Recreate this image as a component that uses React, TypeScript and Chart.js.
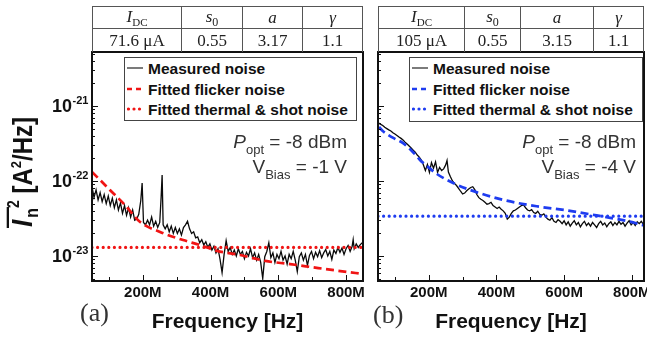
import React, { useEffect, useRef } from "react";
import { Chart, registerables } from "chart.js";

Chart.register(...registerables);

const SANS = "'Liberation Sans', Arial, Helvetica, sans-serif";
const SERIF = "'Liberation Serif', 'Times New Roman', Times, serif";

// ---- axis / label data ----
const xMajorTicksMHz = [200, 400, 600, 800];
const xMinorTicksMHz = [100, 300, 500, 700];
const yLabelExponents = [-23, -22, -21];
const yMin = 4.64e-24;
const yMax = 5.25e-21;

const legendLabels = ["Measured noise", "Fitted flicker noise", "Fitted thermal & shot noise"];
const panelLetters = ["(a)", "(b)"];
const tableValuesA = ["71.6 μA", "0.55", "3.17", "1.1"];
const tableValuesB = ["105 μA", "0.55", "3.15", "1.1"];
const poptValue = "-8 dBm";
const vbiasA = "-1 V";
const vbiasB = "-4 V";

// ---- series: [frequency MHz, noise in 1e-23 A^2/Hz] ----
const measuredA: [number, number][] = [
  [50, 8.4], [56, 6.0], [62, 7.6], [68, 5.6], [74, 7.0], [80, 5.3], [86, 6.6], [92, 5.0], [98, 6.3], [104, 4.7],
  [110, 5.9], [116, 4.4], [122, 5.6], [128, 4.1], [134, 5.1], [140, 3.7], [146, 4.7], [152, 3.5], [158, 4.4], [164, 3.3],
  [170, 4.1], [176, 3.0], [182, 3.1], [188, 3.6], [194, 5.5], [198, 9.4], [202, 2.8], [208, 2.6], [214, 3.0], [220, 2.6],
  [226, 3.3], [232, 2.5], [238, 2.9], [244, 2.4], [250, 2.8], [254, 6.0], [257, 12.0], [260, 2.6], [266, 2.3], [272, 2.6],
  [278, 2.1], [284, 2.5], [290, 2.0], [296, 2.4], [302, 2.0], [308, 2.3], [314, 1.9], [320, 2.4], [326, 2.6], [332, 2.9],
  [338, 2.3], [344, 2.0], [350, 2.1], [356, 1.75], [362, 1.8], [368, 1.5], [374, 1.65], [380, 1.4], [386, 1.55], [392, 1.3],
  [398, 1.45], [404, 1.2], [410, 1.35], [416, 1.1], [422, 1.25], [428, 0.9], [434, 0.6], [440, 1.05], [446, 1.6], [452, 1.15],
  [458, 1.3], [464, 1.05], [470, 1.2], [476, 1.0], [482, 1.25], [488, 1.05], [494, 1.15], [500, 0.92], [506, 1.12], [512, 1.0],
  [518, 1.25], [524, 0.95], [530, 1.1], [536, 0.88], [542, 1.05], [548, 0.82], [554, 0.5], [560, 0.98], [566, 1.15], [572, 1.5],
  [578, 0.95], [584, 1.1], [590, 0.82], [596, 1.05], [602, 0.92], [608, 1.15], [614, 0.88], [620, 1.0], [626, 0.78], [632, 1.05],
  [638, 0.92], [644, 1.15], [650, 0.88], [656, 0.62], [662, 0.98], [668, 1.1], [674, 0.88], [680, 1.05], [686, 0.75], [692, 1.02],
  [698, 1.15], [704, 0.92], [710, 1.12], [716, 0.98], [722, 1.18], [728, 0.95], [734, 1.1], [740, 1.22], [746, 1.0], [752, 1.15],
  [758, 0.9], [764, 1.2], [770, 1.08], [776, 1.3], [782, 1.12], [788, 1.28], [794, 1.05], [800, 1.25], [806, 1.38], [812, 1.15],
  [818, 1.35], [821, 1.65], [824, 1.25], [830, 1.45], [836, 1.3], [842, 1.42], [848, 1.5],
];
const flickerA: [number, number][] = [
  [50, 13.2], [74, 10.3], [103, 7.6], [147, 4.8], [192, 2.84], [251, 2.09], [319, 1.63], [369, 1.4],
  [419, 1.17], [487, 1.03], [561, 0.86], [635, 0.78], [718, 0.69], [783, 0.63], [850, 0.575],
];
const thermalA: [number, number][] = [[50, 1.3], [850, 1.3]];

const measuredB: [number, number][] = [
  [52, 59], [58, 57], [64, 55], [70, 52], [76, 50], [82, 48], [88, 46.5], [94, 44], [100, 42.3], [106, 40.5],
  [112, 38.6], [118, 37], [124, 35.2], [130, 33], [136, 31.1], [142, 29.3], [148, 27.5], [154, 25.8], [160, 24.2], [166, 22.2],
  [172, 20.8], [178, 19], [184, 16.5], [190, 13.8], [196, 16.6], [202, 13], [208, 17.6], [214, 14.8], [220, 18], [226, 13],
  [232, 15.2], [238, 13.8], [244, 14.5], [250, 16.4], [254, 18.8], [258, 13.2], [264, 11.4], [270, 10], [276, 9.3], [282, 8.7],
  [288, 8], [294, 7.3], [300, 6.7], [306, 6.9], [312, 7.4], [318, 7.8], [324, 8.2], [330, 8.4], [336, 7.7], [342, 6.6],
  [348, 6], [354, 5.7], [360, 5.5], [366, 5.2], [372, 4.9], [378, 5], [384, 5.2], [390, 4.7], [396, 4.5], [402, 4.3],
  [408, 4.5], [414, 4.2], [420, 4], [426, 3.7], [432, 3.1], [438, 3.3], [444, 3.7], [450, 4], [456, 4.1], [462, 4.3],
  [468, 4.5], [474, 4.7], [480, 4.8], [486, 4.4], [492, 4.1], [498, 4], [504, 4.15], [510, 3.8], [516, 3.7], [522, 3.95],
  [528, 3.6], [534, 3.5], [540, 3.65], [546, 3.3], [552, 3.1], [558, 3], [564, 3.25], [570, 2.9], [576, 2.8], [582, 3.05],
  [588, 2.9], [594, 2.7], [600, 2.95], [606, 2.6], [612, 2.85], [618, 2.5], [624, 2.75], [630, 2.95], [636, 2.6], [642, 2.8],
  [648, 2.45], [654, 2.7], [660, 2.9], [666, 2.55], [672, 2.75], [678, 2.5], [684, 2.8], [690, 2.6], [696, 2.4], [702, 2.7],
  [708, 2.9], [714, 2.6], [720, 2.75], [726, 2.45], [732, 2.7], [738, 2.85], [744, 2.55], [750, 2.8], [756, 2.6], [762, 2.9],
  [768, 2.65], [774, 2.8], [780, 2.5], [786, 2.75], [792, 2.95], [798, 2.6], [804, 2.8], [810, 2.55], [816, 2.85], [822, 2.7],
  [828, 2.9], [834, 2.65], [836, 2.8],
];
const flickerB: [number, number][] = [
  [53, 52.5], [65, 46], [77, 42], [100, 36.5], [124, 32], [153, 24.4], [174, 19.1], [195, 15.8], [224, 12.4],
  [272, 9.4], [322, 7.6], [420, 5.6], [519, 4.6], [617, 4.0], [715, 3.35], [790, 2.9], [836, 2.55],
];
const thermalB: [number, number][] = [[50, 3.4], [836, 3.4]];

const RED = "#f01414";
const BLUE = "#1e3cf0";

function drawYTitle(ctx: CanvasRenderingContext2D, cx: number, cy: number) {
  ctx.save();
  ctx.translate(cx, cy);
  ctx.rotate(-Math.PI / 2);
  ctx.scale(1, 1.15);
  ctx.fillStyle = "#111";
  ctx.textBaseline = "alphabetic";
  ctx.textAlign = "left";
  const fI = `italic bold 26px ${SANS}`;
  const fSub = `bold 16px ${SANS}`;
  const fSup = `bold 14px ${SANS}`;
  const fMain = `bold 24px ${SANS}`;
  const fSup2 = `bold 13px ${SANS}`;
  const w = (f: string, t: string) => {
    ctx.font = f;
    return ctx.measureText(t).width;
  };
  const wI = w(fI, "I");
  const wN = w(fSub, "n");
  const w2 = w(fSup, "2");
  const wA = w(fMain, " [A");
  const wS = w(fSup2, "2");
  const wH = w(fMain, "/Hz]");
  const total = wI + 2 + wN + w2 + wA + wS + wH;
  let x = -total / 2;
  const overStart = x;
  ctx.font = fI;
  ctx.fillText("I", x, 0);
  x += wI + 2;
  ctx.font = fSub;
  ctx.fillText("n", x, 5);
  x += wN;
  const overEnd = x + 1;
  ctx.font = fSup;
  ctx.fillText("2", x, -11);
  x += w2;
  ctx.font = fMain;
  ctx.fillText(" [A", x, 0);
  x += wA;
  ctx.font = fSup2;
  ctx.fillText("2", x, -10);
  x += wS;
  ctx.font = fMain;
  ctx.fillText("/Hz]", x, 0);
  ctx.fillRect(overStart - 1, -22, overEnd - overStart + 1, 2);
  ctx.restore();
}

function decorPlugin(showY: boolean) {
  return {
    id: "decor",
    afterDatasetsDraw(chart: any) {
      const { ctx, chartArea: a, scales } = chart;
      const xs = scales.x;
      const ys = scales.y;
      ctx.save();
      ctx.strokeStyle = "#111";
      ctx.lineWidth = 1;
      for (let e = -24; e <= -20; e++) {
        for (let m = 1; m <= 9; m++) {
          const v = m * Math.pow(10, e);
          if (v < ys.min * 0.999 || v > ys.max * 1.001) continue;
          const py = Math.round(ys.getPixelForValue(v)) + 0.5;
          const len = m === 1 ? 6 : 3;
          ctx.beginPath();
          ctx.moveTo(a.left, py);
          ctx.lineTo(a.left + len, py);
          ctx.stroke();
        }
      }
      const allX = [...xMajorTicksMHz.map((m) => [m, 6]), ...xMinorTicksMHz.map((m) => [m, 4])];
      for (const [m, len] of allX) {
        const px = Math.round(xs.getPixelForValue(m * 1e6)) + 0.5;
        ctx.beginPath();
        ctx.moveTo(px, a.bottom);
        ctx.lineTo(px, a.bottom - len);
        ctx.stroke();
      }
      ctx.lineWidth = 2;
      ctx.strokeRect(a.left, a.top, a.right - a.left, a.bottom - a.top);
      if (showY) {
        ctx.fillStyle = "#111";
        for (const e of yLabelExponents) {
          const py = ys.getPixelForValue(Math.pow(10, e));
          ctx.font = `bold 18px ${SANS}`;
          ctx.textAlign = "right";
          ctx.textBaseline = "middle";
          ctx.fillText("10", a.left - 20, py + 1);
          ctx.font = `bold 11px ${SANS}`;
          ctx.textAlign = "left";
          ctx.textBaseline = "alphabetic";
          ctx.fillText(String(e), a.left - 19.5, py - 2);
        }
        drawYTitle(ctx, 32, 172);
      }
      ctx.restore();
    },
  };
}

type PanelProps = {
  left: number;
  width: number;
  xMaxMHz: number;
  yAxisWidth: number;
  rightPad: number;
  measured: [number, number][];
  flicker: [number, number][];
  thermal: [number, number][];
  color: string;
  showY: boolean;
};

function Panel(p: PanelProps) {
  const ref = useRef<HTMLCanvasElement>(null);
  useEffect(() => {
    const toPts = (arr: [number, number][]) => arr.map(([f, v]) => ({ x: f * 1e6, y: v * 1e-23 }));
    const chart = new Chart(ref.current as HTMLCanvasElement, {
      type: "line",
      data: {
        datasets: [
          {
            label: legendLabels[2],
            data: toPts(p.thermal),
            borderColor: p.color,
            borderWidth: 3.2,
            borderDash: [0, 5.6],
            borderCapStyle: "round",
            pointRadius: 0,
            order: 1,
          },
          {
            label: legendLabels[1],
            data: toPts(p.flicker),
            borderColor: p.color,
            borderWidth: 2.7,
            borderDash: [8, 4.5],
            cubicInterpolationMode: "monotone",
            pointRadius: 0,
            order: 2,
          },
          {
            label: legendLabels[0],
            data: toPts(p.measured),
            borderColor: "#0a0a0a",
            borderWidth: 1.3,
            pointRadius: 0,
            order: 3,
          },
        ],
      } as any,
      options: {
        responsive: false,
        animation: false,
        devicePixelRatio: 1,
        events: [],
        layout: { padding: { top: 52, right: p.rightPad, left: 0, bottom: 0 } },
        plugins: { legend: { display: false }, tooltip: { enabled: false } },
        scales: {
          x: {
            type: "linear",
            min: 50e6,
            max: p.xMaxMHz * 1e6,
            grid: { display: false, drawTicks: false },
            border: { display: false },
            afterBuildTicks: (s: any) => {
              s.ticks = xMajorTicksMHz.map((m) => ({ value: m * 1e6 }));
            },
            afterFit: (s: any) => {
              s.height = 58;
              s.paddingLeft = 0;
              s.paddingRight = 0;
            },
            ticks: {
              padding: 3,
              autoSkip: false,
              maxRotation: 0,
              color: "#111",
              font: { family: SANS, size: 15, weight: "bold" },
              callback: (v: any) => `${Math.round(Number(v) / 1e6)}M`,
            },
            title: {
              display: true,
              text: "Frequency [Hz]",
              color: "#111",
              font: { family: SANS, size: 21, weight: "bold" },
              padding: { top: 0, bottom: 4 },
            },
          },
          y: {
            type: "logarithmic",
            min: yMin,
            max: yMax,
            grid: { display: false, drawTicks: false },
            border: { display: false },
            ticks: { display: false },
            afterFit: (s: any) => {
              s.width = p.yAxisWidth;
            },
          },
        },
      } as any,
      plugins: [decorPlugin(p.showY)],
    });
    return () => chart.destroy();
  }, []);
  return (
    <canvas
      ref={ref}
      width={p.width}
      height={339}
      style={{ position: "absolute", left: p.left, top: 0, width: p.width, height: 339 }}
    />
  );
}

const LINE = "1px solid #555";

function ParamTable({ edges, values }: { edges: number[]; values: string[] }) {
  const x0 = edges[0];
  const headers = [
    <span key="i">
      <i>I</i>
      <span style={{ fontSize: 11, position: "relative", top: 4 }}>DC</span>
    </span>,
    <span key="s">
      <i>s</i>
      <span style={{ fontSize: 12, position: "relative", top: 4 }}>0</span>
    </span>,
    <i key="a">a</i>,
    <i key="g">γ</i>,
  ];
  const cells: React.ReactNode[] = [];
  for (let r = 0; r < 2; r++) {
    for (let c = 0; c < 4; c++) {
      cells.push(
        <div
          key={`${r}-${c}`}
          style={{
            position: "absolute",
            left: edges[c] - x0,
            top: r === 0 ? 0 : 22,
            width: edges[c + 1] - edges[c],
            height: r === 0 ? 22 : 24,
            boxSizing: "border-box",
            borderLeft: LINE,
            borderRight: c === 3 ? LINE : "none",
            borderTop: LINE,
            display: "flex",
            alignItems: "center",
            justifyContent: "center",
            fontFamily: SERIF,
            fontSize: 17,
            color: "#222",
            whiteSpace: "nowrap",
            lineHeight: "20px",
          }}
        >
          {r === 0 ? headers[c] : values[c]}
        </div>
      );
    }
  }
  return (
    <div style={{ position: "absolute", left: x0, top: 6, width: edges[4] - x0, height: 46 }}>{cells}</div>
  );
}

function Legend({ left, top, width, height, color }: { left: number; top: number; width: number; height: number; color: string }) {
  const rows = [11, 32, 52];
  const sym = [
    <line key="m" x1={0} x2={16} y1={4} y2={4} stroke="#333" strokeWidth={1.3} />,
    <line key="d" x1={0} x2={16} y1={4} y2={4} stroke={color} strokeWidth={2.6} strokeDasharray="5 4" />,
    <line key="o" x1={1.5} x2={14} y1={4} y2={4} stroke={color} strokeWidth={3.2} strokeDasharray="0 5.5" strokeLinecap="round" />,
  ];
  return (
    <div
      style={{
        position: "absolute",
        left,
        top,
        width,
        height,
        boxSizing: "border-box",
        border: "1px solid #444",
        background: "#fff",
      }}
    >
      {legendLabels.map((t, i) => (
        <React.Fragment key={t}>
          <svg width={18} height={8} style={{ position: "absolute", left: 2, top: rows[i] - 5 }}>
            {sym[i]}
          </svg>
          <div
            style={{
              position: "absolute",
              left: 23,
              top: rows[i] - 10,
              height: 20,
              lineHeight: "20px",
              fontFamily: SANS,
              fontWeight: "bold",
              fontSize: 15.5,
              color: "#111",
              whiteSpace: "nowrap",
            }}
          >
            {t}
          </div>
        </React.Fragment>
      ))}
    </div>
  );
}

function Annotation({ right, vbias }: { right: number; vbias: string }) {
  const base: React.CSSProperties = {
    position: "absolute",
    right,
    height: 20,
    lineHeight: "20px",
    fontFamily: SANS,
    fontSize: 19,
    color: "#333",
    whiteSpace: "nowrap",
    textAlign: "right",
  };
  const sub: React.CSSProperties = { fontSize: 13, position: "relative", top: 6 };
  return (
    <>
      <div style={{ ...base, top: 132 }}>
        <i>P</i>
        <span style={sub}>opt</span> = {poptValue}
      </div>
      <div style={{ ...base, top: 157 }}>
        V<span style={sub}>Bias</span> = {vbias}
      </div>
    </>
  );
}

export default function App() {
  return (
    <div
      style={{
        position: "absolute",
        left: 0,
        top: 0,
        width: 647,
        height: 339,
        background: "#fff",
        overflow: "hidden",
      }}
    >
      <Panel
        left={0}
        width={370}
        xMaxMHz={850}
        yAxisWidth={92}
        rightPad={7}
        measured={measuredA}
        flicker={flickerA}
        thermal={thermalA}
        color={RED}
        showY={true}
      />
      <Panel
        left={370}
        width={277}
        xMaxMHz={836}
        yAxisWidth={8}
        rightPad={3}
        measured={measuredB}
        flicker={flickerB}
        thermal={thermalB}
        color={BLUE}
        showY={false}
      />
      <ParamTable edges={[92, 181, 242, 302, 363]} values={tableValuesA} />
      <ParamTable edges={[378, 464, 520, 593, 644]} values={tableValuesB} />
      <Legend left={124} top={57} width={233} height={64} color={RED} />
      <Legend left={409} top={57} width={234} height={65} color={BLUE} />
      <Annotation right={647 - 347} vbias={vbiasA} />
      <Annotation right={647 - 636} vbias={vbiasB} />
      <div
        style={{
          position: "absolute",
          left: 80,
          top: 298,
          height: 30,
          lineHeight: "30px",
          fontFamily: SERIF,
          fontSize: 26,
          color: "#333",
        }}
      >
        {panelLetters[0]}
      </div>
      <div
        style={{
          position: "absolute",
          left: 373,
          top: 300,
          height: 30,
          lineHeight: "30px",
          fontFamily: SERIF,
          fontSize: 26,
          color: "#333",
        }}
      >
        {panelLetters[1]}
      </div>
    </div>
  );
}
